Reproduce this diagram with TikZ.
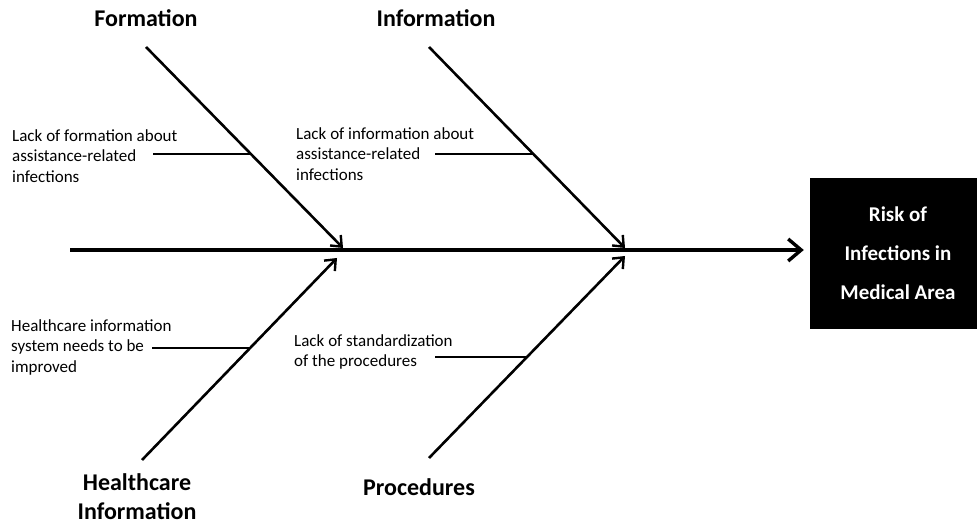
\documentclass[tikz,border=0pt]{standalone}
\usepackage{fontspec}
\setmainfont{Carlito}
\usetikzlibrary{arrows.meta,calc}
\begin{document}
\begin{tikzpicture}[x=1pt,y=1pt,
  title/.style={font=\fontsize{24}{29}\selectfont\bfseries, inner sep=0pt, align=center},
  cause/.style={font=\fontsize{17}{20.5}\selectfont, inner sep=0pt, align=left, anchor=west},
  branch/.style={line width=2.6pt, -{Straight Barb[length=9pt,width=15pt,line width=2.4pt]}},
  spine/.style={line width=4pt, -{Straight Barb[length=13pt,width=22pt,line width=3.4pt]}},
  sub/.style={line width=2.6pt},
  effect/.style={fill=black, text=white, minimum width=176pt, minimum height=151pt,
    inner sep=0pt, align=center, font=\fontsize{21}{39}\selectfont\bfseries}]
\useasboundingbox (0,0) rectangle (977,-526);

% effect box
\node[effect] (risk) at (898,-253.5) {Risk of\\Infections in\\Medical Area};

% spine
\coordinate (sp) at (70,-250);
\draw[spine, shorten >=6pt] (sp) -- (sp -| risk.west);

% titles
\node[title] (tform) at (146,-18) {Formation};
\node[title] (tinfo) at (436,-18) {Information};
\node[title] (thc) at (137,-497) {Healthcare\\Information};
\node[title] (tproc) at (419,-487) {Procedures};

% branch coordinates
\coordinate (fs) at (146,-47);   \coordinate (fe) at (343,-248);
\coordinate (is) at (429,-47);   \coordinate (ie) at (625,-248);
\coordinate (hs) at (142,-460);  \coordinate (he) at (337,-258);
\coordinate (ps) at (429,-458);  \coordinate (pe) at (625,-256);

\draw[branch] (fs) -- (fe);
\draw[branch] (is) -- (ie);
\draw[branch] (hs) -- (he);
\draw[branch] (ps) -- (pe);

% sub-cause lines
\coordinate (f1) at ($(fs)!0.532!(fe)$);  \coordinate (f0) at (153,-154);
\coordinate (i1) at ($(is)!0.532!(ie)$);  \coordinate (i0) at (435,-154);
\coordinate (h1) at ($(hs)!0.558!(he)$);  \coordinate (h0) at (152,-348);
\coordinate (p1) at ($(ps)!0.500!(pe)$);  \coordinate (p0) at (435,-357);
\draw[sub] (f0) -- (f0 -| f1);
\draw[sub] (i0) -- (i0 -| i1);
\draw[sub] (h0) -- (h0 -| h1);
\draw[sub] (p0) -- (p0 -| p1);

% cause texts
\node[cause] (cf) at (12,-156) {Lack of formation about\\assistance-related\\infections};
\node[cause] (ci) at (296,-154) {Lack of information about\\assistance-related\\infections};
\node[cause] (ch) at (11,-347) {Healthcare information\\system needs to be\\improved};
\node[cause] (cp) at (294,-352) {Lack of standardization\\of the procedures};
\end{tikzpicture}
\end{document}
